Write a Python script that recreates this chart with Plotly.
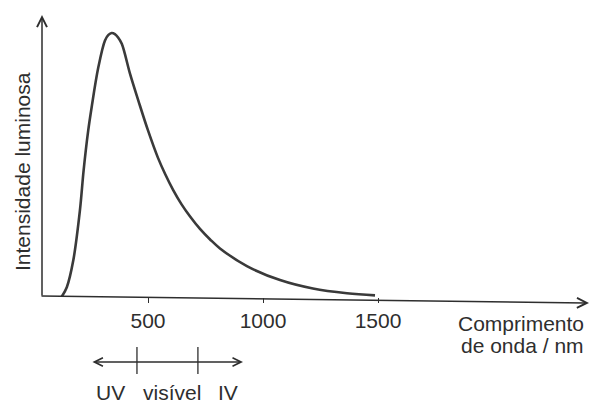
import plotly.graph_objects as go

# Emission curve: wavelength (nm) vs relative luminous intensity
wavelength_nm = [124, 147, 175, 204, 220, 240, 255, 284, 313, 328, 342, 356,
                 370, 386, 422, 458, 500, 543, 575, 609, 646, 683, 726, 770,
                 813, 930, 1074, 1217, 1365, 1487]
intensity = [0.0, 0.037, 0.138, 0.328, 0.479, 0.63, 0.719, 0.87, 0.972, 0.993,
             1.0, 0.996, 0.983, 0.959, 0.845, 0.744, 0.631, 0.528, 0.465,
             0.406, 0.351, 0.305, 0.258, 0.218, 0.184, 0.117, 0.064, 0.032,
             0.014, 0.006]

tick_values = [500, 1000, 1500]
tick_labels = ["500", "1000", "1500"]

# Spectral band schematic under the axis
band_arrow_nm = [252, 913]          # double arrow extent
band_bounds_nm = [452, 717]         # UV | visível | IV separators
band_names = ["UV", "visível", "IV"]
band_label_nm = [335, 604, 848]

INK = "#2e2e2e"
FONT = "Liberation Sans, Arial, sans-serif"
FS = 21

W, H = 591, 404
ML, MB = 42, 107
plot_w = W - ML
plot_h = H - MB
px_per_nm = 0.23
nm_at_px0 = -33 / px_per_nm


def px_to_nm(px):
    return px / px_per_nm + nm_at_px0


def py_to_paper(py):
    return (plot_h - py) / plot_h


def px_to_paper(px):
    return (px - ML) / plot_w


fig = go.Figure()
fig.add_trace(go.Scatter(
    x=wavelength_nm, y=intensity, mode="lines",
    line=dict(color="#3a3a3a", width=2.6, shape="spline", smoothing=1.0),
    hoverinfo="skip", showlegend=False,
))

annotations = []
# y axis with arrow
annotations.append(dict(
    xref="paper", yref="paper", x=0, y=py_to_paper(15),
    axref="pixel", ayref="pixel", ax=0, ay=plot_h - 15,
    showarrow=True, arrowhead=5, arrowsize=1.3, arrowwidth=1.5,
    arrowcolor=INK, text="",
))
# x axis with arrow
annotations.append(dict(
    xref="paper", yref="paper", x=px_to_paper(589), y=py_to_paper(303),
    axref="pixel", ayref="pixel", ax=40 - 589, ay=296 - 303,
    showarrow=True, arrowhead=5, arrowsize=1.3, arrowwidth=1.5,
    arrowcolor=INK, text="",
))
# axis titles
annotations.append(dict(
    xref="paper", yref="paper", x=px_to_paper(22), y=py_to_paper(172),
    text="Intensidade luminosa", textangle=-90, showarrow=False,
    font=dict(family=FONT, size=FS, color=INK),
    xanchor="center", yanchor="middle",
))
annotations.append(dict(
    xref="paper", yref="paper", x=px_to_paper(586), y=py_to_paper(323),
    text="Comprimento", showarrow=False,
    font=dict(family=FONT, size=FS, color=INK),
    xanchor="right", yanchor="middle",
))
annotations.append(dict(
    xref="paper", yref="paper", x=px_to_paper(586), y=py_to_paper(345),
    text="de onda / nm", showarrow=False,
    font=dict(family=FONT, size=FS, color=INK),
    xanchor="right", yanchor="middle",
))
# spectral band double arrow
annotations.append(dict(
    xref="x", yref="paper", x=band_arrow_nm[1], y=py_to_paper(362),
    axref="x", ayref="pixel", ax=band_arrow_nm[0], ay=0,
    showarrow=True, arrowside="end+start", arrowhead=5, startarrowhead=5,
    arrowsize=1.3, startarrowsize=1.3, arrowwidth=1.3,
    arrowcolor=INK, text="",
))
for name, pos in zip(band_names, band_label_nm):
    annotations.append(dict(
        xref="x", yref="paper", x=pos, y=py_to_paper(392),
        text=name, showarrow=False,
        font=dict(family=FONT, size=FS, color=INK),
        xanchor="center", yanchor="middle",
    ))

shapes = []
for b in band_bounds_nm:
    shapes.append(dict(
        type="line", xref="x", yref="paper",
        x0=b, x1=b, y0=py_to_paper(347), y1=py_to_paper(374),
        line=dict(color=INK, width=1.3),
    ))

fig.update_layout(
    width=W, height=H,
    margin=dict(l=ML, r=0, t=0, b=MB, pad=0),
    paper_bgcolor="white", plot_bgcolor="white",
    showlegend=False,
    xaxis=dict(
        range=[px_to_nm(ML), px_to_nm(W)],
        tickvals=tick_values, ticktext=tick_labels,
        ticks="outside", ticklen=5, tickwidth=1.2, tickcolor=INK,
        showgrid=False, zeroline=False, showline=False,
        tickfont=dict(family=FONT, size=FS, color=INK),
        fixedrange=True,
    ),
    yaxis=dict(
        range=[0, plot_h / 264],
        showticklabels=False, ticks="", showgrid=False,
        zeroline=False, showline=False, fixedrange=True,
    ),
    annotations=annotations,
    shapes=shapes,
)

fig.write_html("out.html")
